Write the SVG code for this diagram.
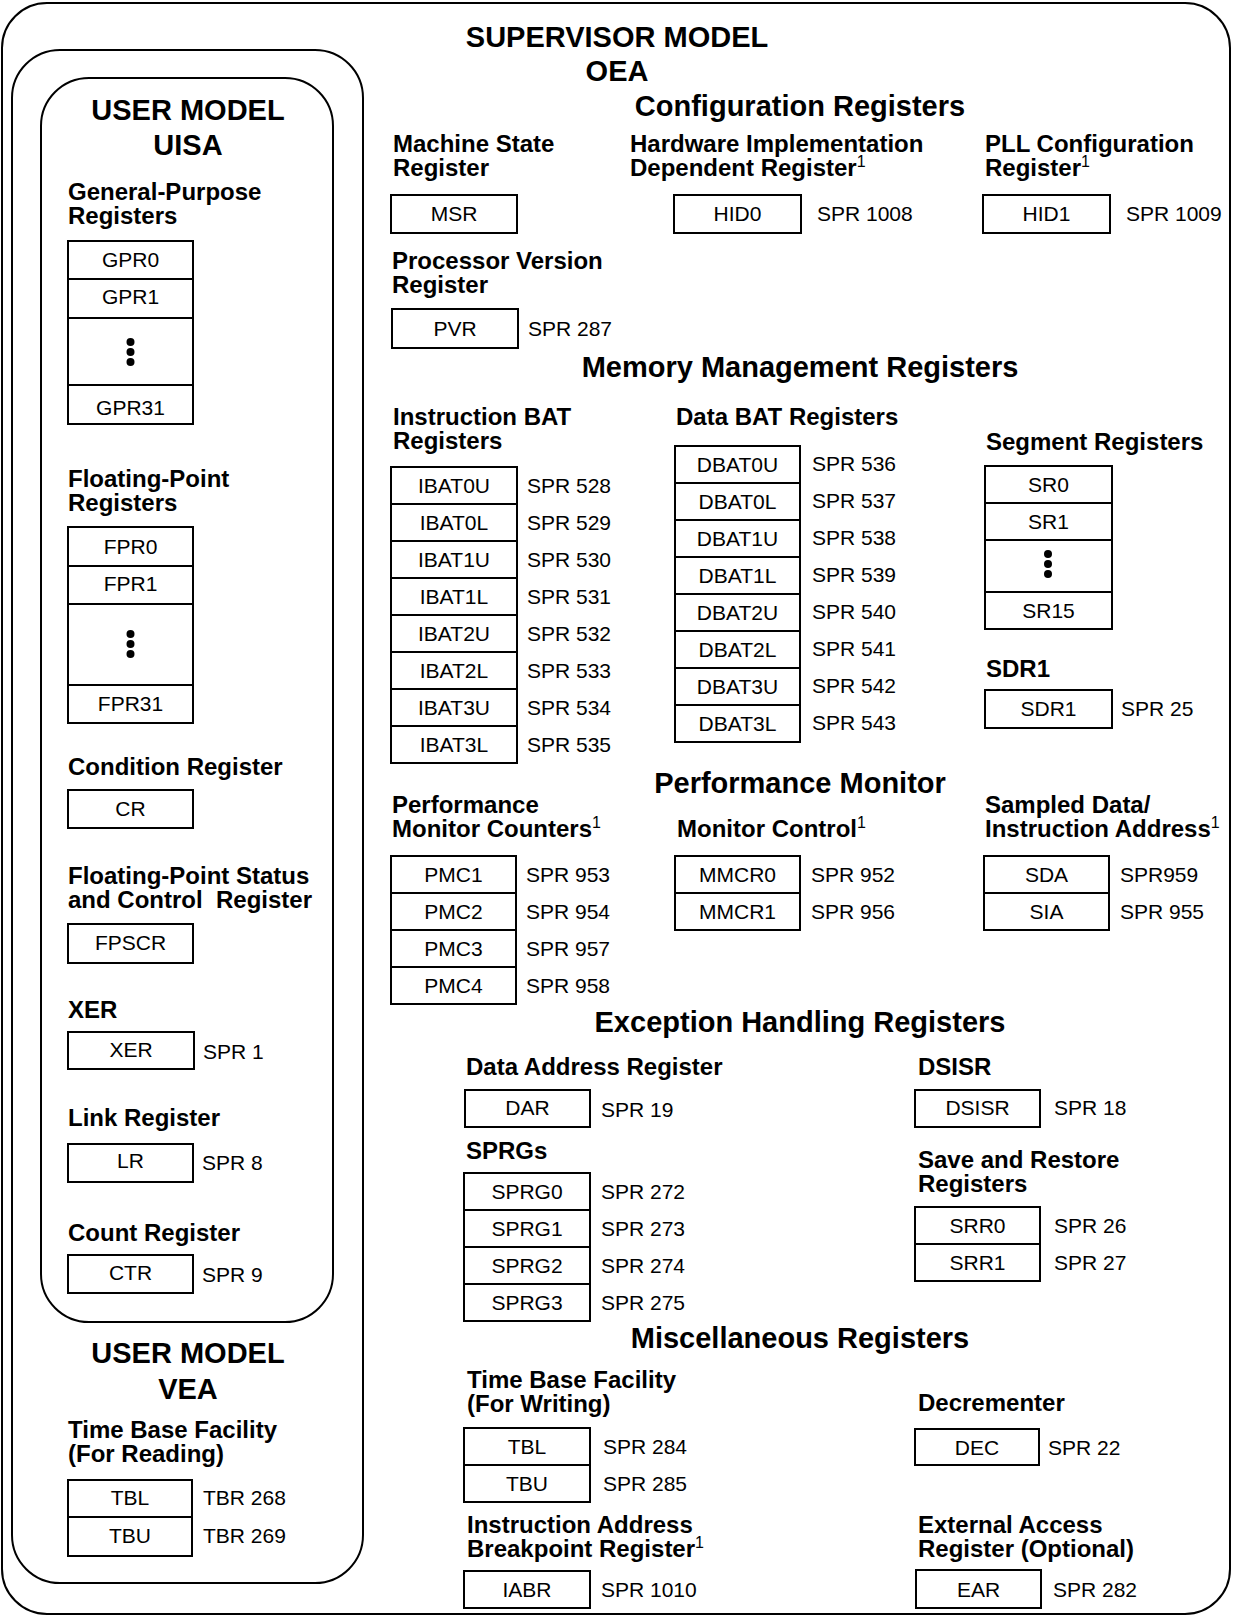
<svg xmlns="http://www.w3.org/2000/svg" width="1233" height="1617" viewBox="0 0 1233 1617">
<style>
text{font-family:"Liberation Sans",Arial,Helvetica,sans-serif;fill:#000}
.t{font-size:29px;font-weight:bold;text-anchor:middle}
.h{font-size:24px;font-weight:bold}
.r{font-size:21px;text-anchor:middle}
.s{font-size:21px}
.sup{font-size:16px;font-weight:normal}
.b{fill:#fff;stroke:#000;stroke-width:2}
.l{stroke:#000;stroke-width:2}
.f{fill:none;stroke:#000;stroke-width:2}
</style>
<rect width="1233" height="1617" fill="#fff"/>
<g id="frames">
<rect class="f" x="2" y="3" width="1228" height="1611" rx="45"/>
<rect class="f" x="12" y="50" width="351" height="1533" rx="48"/>
<rect class="f" x="41" y="78" width="292" height="1244" rx="48"/>
</g>
<g id="connectors"/>
<g id="uisa-title"><text class="t" x="188" y="120">USER MODEL</text><text class="t" x="188" y="155">UISA</text></g>
<g id="gpr">
<text class="h" x="68" y="200">General-Purpose</text><text class="h" x="68" y="224">Registers</text>
<rect class="b" x="68" y="241" width="125" height="183"/>
<line class="l" x1="68" y1="279" x2="193" y2="279"/><line class="l" x1="68" y1="318" x2="193" y2="318"/><line class="l" x1="68" y1="385" x2="193" y2="385"/>
<text class="r" x="130.5" y="267">GPR0</text><text class="r" x="130.5" y="304">GPR1</text><text class="r" x="130.5" y="415">GPR31</text>
<circle cx="130.5" cy="342" r="4"/><circle cx="130.5" cy="352" r="4"/><circle cx="130.5" cy="362" r="4"/>
</g>
<g id="fpr">
<text class="h" x="68" y="487">Floating-Point</text><text class="h" x="68" y="511">Registers</text>
<rect class="b" x="68" y="527" width="125" height="196"/>
<line class="l" x1="68" y1="566" x2="193" y2="566"/><line class="l" x1="68" y1="604" x2="193" y2="604"/><line class="l" x1="68" y1="685" x2="193" y2="685"/>
<text class="r" x="130.5" y="554">FPR0</text><text class="r" x="130.5" y="591">FPR1</text><text class="r" x="130.5" y="711">FPR31</text>
<circle cx="130.5" cy="634" r="4"/><circle cx="130.5" cy="644" r="4"/><circle cx="130.5" cy="654" r="4"/>
</g>
<g id="cr">
<text class="h" x="68" y="775">Condition Register</text>
<rect class="b" x="68" y="790" width="125" height="38"/><text class="r" x="130.5" y="816">CR</text>
</g>
<g id="fpscr">
<text class="h" x="68" y="884">Floating-Point Status</text><text class="h" x="68" y="908" xml:space="preserve">and Control  Register</text>
<rect class="b" x="68" y="924" width="125" height="39"/><text class="r" x="130.5" y="950">FPSCR</text>
</g>
<g id="xer">
<text class="h" x="68" y="1018">XER</text>
<rect class="b" x="68" y="1032" width="126" height="37"/><text class="r" x="131" y="1057">XER</text><text class="s" x="203" y="1059">SPR 1</text>
</g>
<g id="lr">
<text class="h" x="68" y="1126">Link Register</text>
<rect class="b" x="68" y="1144" width="125" height="38"/><text class="r" x="130.5" y="1168">LR</text><text class="s" x="202" y="1170">SPR 8</text>
</g>
<g id="ctr">
<text class="h" x="68" y="1241">Count Register</text>
<rect class="b" x="68" y="1255" width="125" height="38"/><text class="r" x="130.5" y="1280">CTR</text><text class="s" x="202" y="1282">SPR 9</text>
</g>
<g id="vea-title"><text class="t" x="188" y="1363">USER MODEL</text><text class="t" x="188" y="1399">VEA</text></g>
<g id="tb-read">
<text class="h" x="68" y="1438">Time Base Facility</text><text class="h" x="68" y="1462">(For Reading)</text>
<rect class="b" x="68" y="1480" width="124" height="76"/><line class="l" x1="68" y1="1517" x2="192" y2="1517"/>
<text class="r" x="130" y="1505">TBL</text><text class="r" x="130" y="1543">TBU</text>
<text class="s" x="203" y="1505">TBR 268</text><text class="s" x="203" y="1543">TBR 269</text>
</g>
<g id="oea-title"><text class="t" x="617" y="47">SUPERVISOR MODEL</text><text class="t" x="617" y="81">OEA</text></g>
<g id="config-title"><text class="t" x="800" y="116">Configuration Registers</text></g>
<g id="msr">
<text class="h" x="393" y="152">Machine State</text><text class="h" x="393" y="176">Register</text>
<rect class="b" x="391" y="195" width="126" height="38"/><text class="r" x="454" y="221">MSR</text>
</g>
<g id="hid0">
<text class="h" x="630" y="152">Hardware Implementation</text><text class="h" x="630" y="176">Dependent Register<tspan class="sup" dy="-9">1</tspan></text>
<rect class="b" x="674" y="195" width="127" height="38"/><text class="r" x="737.5" y="221">HID0</text><text class="s" x="817" y="221">SPR 1008</text>
</g>
<g id="hid1">
<text class="h" x="985" y="152">PLL Configuration</text><text class="h" x="985" y="176">Register<tspan class="sup" dy="-9">1</tspan></text>
<rect class="b" x="983" y="195" width="127" height="38"/><text class="r" x="1046.5" y="221">HID1</text><text class="s" x="1126" y="221">SPR 1009</text>
</g>
<g id="pvr">
<text class="h" x="392" y="269">Processor Version</text><text class="h" x="392" y="293">Register</text>
<rect class="b" x="392" y="309" width="126" height="39"/><text class="r" x="455" y="336">PVR</text><text class="s" x="528" y="336">SPR 287</text>
</g>
<g id="mmu-title"><text class="t" x="800" y="377">Memory Management Registers</text></g>
<g id="ibat">
<text class="h" x="393" y="425">Instruction BAT</text><text class="h" x="393" y="449">Registers</text>
<rect class="b" x="391" y="467" width="126" height="296"/>
<line class="l" x1="391" y1="504" x2="517" y2="504"/><line class="l" x1="391" y1="541" x2="517" y2="541"/><line class="l" x1="391" y1="578" x2="517" y2="578"/><line class="l" x1="391" y1="615" x2="517" y2="615"/><line class="l" x1="391" y1="652" x2="517" y2="652"/><line class="l" x1="391" y1="689" x2="517" y2="689"/><line class="l" x1="391" y1="726" x2="517" y2="726"/>
<text class="r" x="454" y="493">IBAT0U</text><text class="r" x="454" y="530">IBAT0L</text><text class="r" x="454" y="567">IBAT1U</text><text class="r" x="454" y="604">IBAT1L</text><text class="r" x="454" y="641">IBAT2U</text><text class="r" x="454" y="678">IBAT2L</text><text class="r" x="454" y="715">IBAT3U</text><text class="r" x="454" y="752">IBAT3L</text>
<text class="s" x="527" y="493">SPR 528</text><text class="s" x="527" y="530">SPR 529</text><text class="s" x="527" y="567">SPR 530</text><text class="s" x="527" y="604">SPR 531</text><text class="s" x="527" y="641">SPR 532</text><text class="s" x="527" y="678">SPR 533</text><text class="s" x="527" y="715">SPR 534</text><text class="s" x="527" y="752">SPR 535</text>
</g>
<g id="dbat">
<text class="h" x="676" y="425">Data BAT Registers</text>
<rect class="b" x="675" y="446" width="125" height="296"/>
<line class="l" x1="675" y1="483" x2="800" y2="483"/><line class="l" x1="675" y1="520" x2="800" y2="520"/><line class="l" x1="675" y1="557" x2="800" y2="557"/><line class="l" x1="675" y1="594" x2="800" y2="594"/><line class="l" x1="675" y1="631" x2="800" y2="631"/><line class="l" x1="675" y1="668" x2="800" y2="668"/><line class="l" x1="675" y1="705" x2="800" y2="705"/>
<text class="r" x="737.5" y="472">DBAT0U</text><text class="r" x="737.5" y="509">DBAT0L</text><text class="r" x="737.5" y="546">DBAT1U</text><text class="r" x="737.5" y="583">DBAT1L</text><text class="r" x="737.5" y="620">DBAT2U</text><text class="r" x="737.5" y="657">DBAT2L</text><text class="r" x="737.5" y="694">DBAT3U</text><text class="r" x="737.5" y="731">DBAT3L</text>
<text class="s" x="812" y="471">SPR 536</text><text class="s" x="812" y="508">SPR 537</text><text class="s" x="812" y="545">SPR 538</text><text class="s" x="812" y="582">SPR 539</text><text class="s" x="812" y="619">SPR 540</text><text class="s" x="812" y="656">SPR 541</text><text class="s" x="812" y="693">SPR 542</text><text class="s" x="812" y="730">SPR 543</text>
</g>
<g id="sr">
<text class="h" x="986" y="450">Segment Registers</text>
<rect class="b" x="985" y="466" width="127" height="163"/>
<line class="l" x1="985" y1="503" x2="1112" y2="503"/><line class="l" x1="985" y1="540" x2="1112" y2="540"/><line class="l" x1="985" y1="592" x2="1112" y2="592"/>
<text class="r" x="1048.5" y="492">SR0</text><text class="r" x="1048.5" y="529">SR1</text><text class="r" x="1048.5" y="618">SR15</text>
<circle cx="1048" cy="554" r="4"/><circle cx="1048" cy="564" r="4"/><circle cx="1048" cy="574" r="4"/>
</g>
<g id="sdr1">
<text class="h" x="986" y="677">SDR1</text>
<rect class="b" x="985" y="690" width="127" height="38"/><text class="r" x="1048.5" y="716">SDR1</text><text class="s" x="1121" y="716">SPR 25</text>
</g>
<g id="pm-title"><text class="t" x="800" y="793">Performance Monitor</text></g>
<g id="pmc">
<text class="h" x="392" y="813">Performance</text><text class="h" x="392" y="837">Monitor Counters<tspan class="sup" dy="-9">1</tspan></text>
<rect class="b" x="391" y="856" width="125" height="148"/>
<line class="l" x1="391" y1="893" x2="516" y2="893"/><line class="l" x1="391" y1="930" x2="516" y2="930"/><line class="l" x1="391" y1="967" x2="516" y2="967"/>
<text class="r" x="453.5" y="882">PMC1</text><text class="r" x="453.5" y="919">PMC2</text><text class="r" x="453.5" y="956">PMC3</text><text class="r" x="453.5" y="993">PMC4</text>
<text class="s" x="526" y="882">SPR 953</text><text class="s" x="526" y="919">SPR 954</text><text class="s" x="526" y="956">SPR 957</text><text class="s" x="526" y="993">SPR 958</text>
</g>
<g id="mmcr">
<text class="h" x="677" y="837">Monitor Control<tspan class="sup" dy="-9">1</tspan></text>
<rect class="b" x="675" y="856" width="125" height="74"/><line class="l" x1="675" y1="893" x2="800" y2="893"/>
<text class="r" x="737.5" y="882">MMCR0</text><text class="r" x="737.5" y="919">MMCR1</text>
<text class="s" x="811" y="882">SPR 952</text><text class="s" x="811" y="919">SPR 956</text>
</g>
<g id="sda">
<text class="h" x="985" y="813">Sampled Data/</text><text class="h" x="985" y="837">Instruction Address<tspan class="sup" dy="-9">1</tspan></text>
<rect class="b" x="984" y="856" width="125" height="74"/><line class="l" x1="984" y1="893" x2="1109" y2="893"/>
<text class="r" x="1046.5" y="882">SDA</text><text class="r" x="1046.5" y="919">SIA</text>
<text class="s" x="1120" y="882">SPR959</text><text class="s" x="1120" y="919">SPR 955</text>
</g>
<g id="exc-title"><text class="t" x="800" y="1032">Exception Handling Registers</text></g>
<g id="dar">
<text class="h" x="466" y="1075">Data Address Register</text>
<rect class="b" x="465" y="1090" width="125" height="37"/><text class="r" x="527.5" y="1115">DAR</text><text class="s" x="601" y="1117">SPR 19</text>
</g>
<g id="sprg">
<text class="h" x="466" y="1159">SPRGs</text>
<rect class="b" x="464" y="1173" width="126" height="148"/>
<line class="l" x1="464" y1="1210" x2="590" y2="1210"/><line class="l" x1="464" y1="1247" x2="590" y2="1247"/><line class="l" x1="464" y1="1284" x2="590" y2="1284"/>
<text class="r" x="527" y="1199">SPRG0</text><text class="r" x="527" y="1236">SPRG1</text><text class="r" x="527" y="1273">SPRG2</text><text class="r" x="527" y="1310">SPRG3</text>
<text class="s" x="601" y="1199">SPR 272</text><text class="s" x="601" y="1236">SPR 273</text><text class="s" x="601" y="1273">SPR 274</text><text class="s" x="601" y="1310">SPR 275</text>
</g>
<g id="dsisr">
<text class="h" x="918" y="1075">DSISR</text>
<rect class="b" x="915" y="1090" width="125" height="37"/><text class="r" x="977.5" y="1115">DSISR</text><text class="s" x="1054" y="1115">SPR 18</text>
</g>
<g id="srr">
<text class="h" x="918" y="1168">Save and Restore</text><text class="h" x="918" y="1192">Registers</text>
<rect class="b" x="915" y="1207" width="125" height="74"/><line class="l" x1="915" y1="1244" x2="1040" y2="1244"/>
<text class="r" x="977.5" y="1233">SRR0</text><text class="r" x="977.5" y="1270">SRR1</text>
<text class="s" x="1054" y="1233">SPR 26</text><text class="s" x="1054" y="1270">SPR 27</text>
</g>
<g id="misc-title"><text class="t" x="800" y="1348">Miscellaneous Registers</text></g>
<g id="tb-write">
<text class="h" x="467" y="1388">Time Base Facility</text><text class="h" x="467" y="1412">(For Writing)</text>
<rect class="b" x="464" y="1428" width="126" height="74"/><line class="l" x1="464" y1="1465" x2="590" y2="1465"/>
<text class="r" x="527" y="1454">TBL</text><text class="r" x="527" y="1491">TBU</text>
<text class="s" x="603" y="1454">SPR 284</text><text class="s" x="603" y="1491">SPR 285</text>
</g>
<g id="iabr">
<text class="h" x="467" y="1533">Instruction Address</text><text class="h" x="467" y="1557">Breakpoint Register<tspan class="sup" dy="-9">1</tspan></text>
<rect class="b" x="464" y="1571" width="126" height="37"/><text class="r" x="527" y="1597">IABR</text><text class="s" x="601" y="1597">SPR 1010</text>
</g>
<g id="dec">
<text class="h" x="918" y="1411">Decrementer</text>
<rect class="b" x="915" y="1429" width="124" height="36"/><text class="r" x="977" y="1455">DEC</text><text class="s" x="1048" y="1455">SPR 22</text>
</g>
<g id="ear">
<text class="h" x="918" y="1533">External Access</text><text class="h" x="918" y="1557">Register (Optional)</text>
<rect class="b" x="916" y="1570" width="125" height="38"/><text class="r" x="978.5" y="1597">EAR</text><text class="s" x="1053" y="1597">SPR 282</text>
</g>
</svg>
